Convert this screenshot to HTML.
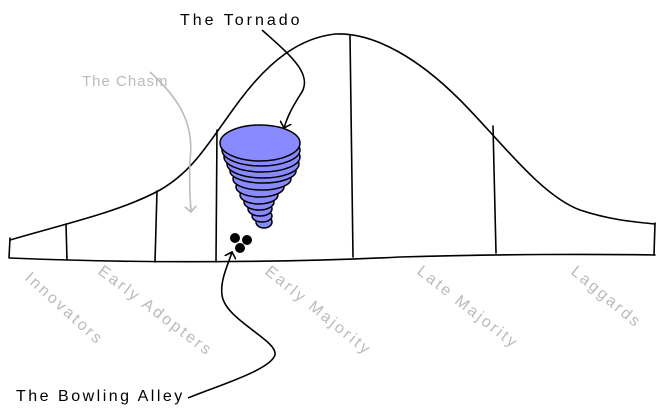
<!DOCTYPE html>
<html><head><meta charset="utf-8"><style>
html,body{margin:0;padding:0;background:#fff;}
svg{display:block;}
text{font-family:"Liberation Sans",sans-serif;}
</style></head><body>
<svg width="671" height="420" viewBox="0 0 671 420" xmlns="http://www.w3.org/2000/svg">
<defs>
<marker id="ab" markerWidth="12" markerHeight="12" refX="6" refY="6" orient="auto" markerUnits="userSpaceOnUse"><path d="M0,0 L6,6 L0,12" fill="none" stroke="#000" stroke-width="1.6"/></marker>
<marker id="ag" markerWidth="12" markerHeight="12" refX="6" refY="6" orient="auto" markerUnits="userSpaceOnUse"><path d="M0,0 L6,6 L0,12" fill="none" stroke="#bbb" stroke-width="1.6"/></marker>
</defs>
<g fill="none" stroke="#000" stroke-width="1.6" stroke-linecap="round">
<path d="M10,240 C60,225 120,212 160,190 C195,170 210,140 240,100 C270,60 300,38 335,34 C375,32 420,60 460,100 C500,140 540,195 580,210 C610,220 635,222 655,224"/>
<path d="M10,258 C150,264 300,262 400,257 C500,254 600,254 655,255"/>
<path d="M10,238 L9,258"/>
<path d="M66,224 L67,260"/>
<path d="M157,191 L155,262"/>
<path d="M217,130 L216,262"/>
<path d="M350,35 L353,257"/>
<path d="M493,126 L496,253"/>
<path d="M655,223 L654,255"/>
</g>
<g fill="#8a8aff" stroke="#000" stroke-width="1.5">
<ellipse cx="264" cy="222" rx="8" ry="6"/>
<ellipse cx="262" cy="216" rx="10" ry="6"/>
<ellipse cx="260" cy="209" rx="12" ry="7"/>
<ellipse cx="259" cy="202" rx="15" ry="8"/>
<ellipse cx="259" cy="195" rx="19" ry="9"/>
<ellipse cx="260" cy="187" rx="24" ry="10"/>
<ellipse cx="262" cy="179" rx="29" ry="11"/>
<ellipse cx="263" cy="171" rx="33" ry="12"/>
<ellipse cx="263" cy="164" rx="36" ry="14"/>
<ellipse cx="262" cy="157" rx="38" ry="15"/>
<ellipse cx="261" cy="150" rx="39" ry="16"/>
<ellipse cx="260" cy="143" rx="40" ry="18"/>
</g>
<g fill="#000">
<circle cx="235" cy="238" r="5"/>
<circle cx="247" cy="240" r="5"/>
<circle cx="240" cy="248" r="5"/>
</g>
<path d="M262,30 C290,55 315,75 300,95 C292,108 288,115 284,128" fill="none" stroke="#000" stroke-width="1.6" marker-end="url(#ab)"/>
<path d="M150,72 C175,95 195,120 190,160 C189,185 190,200 191,212" fill="none" stroke="#bbb" stroke-width="1.6" marker-end="url(#ag)"/>
<path d="M188,398 C220,385 270,370 275,355 C278,340 225,320 222,295 C220,280 228,265 232,252" fill="none" stroke="#000" stroke-width="1.6" marker-end="url(#ab)"/>
<text x="180" y="25" font-size="16" letter-spacing="3" fill="#000">The Tornado</text>
<text x="82" y="86" font-size="15" letter-spacing="1" fill="#bbb">The Chasm</text>
<text x="16" y="401" font-size="16" letter-spacing="2.5" fill="#000">The Bowling Alley</text>
<g font-size="16" letter-spacing="2.5" fill="#bbb">
<text transform="translate(24,279) rotate(42)">Innovators</text>
<text transform="translate(97,273) rotate(37)">Early Adopters</text>
<text transform="translate(264,273) rotate(39)">Early Majority</text>
<text transform="translate(416,273) rotate(38)">Late Majority</text>
<text transform="translate(570,273) rotate(40)">Laggards</text>
</g>
</svg>
</body></html>
